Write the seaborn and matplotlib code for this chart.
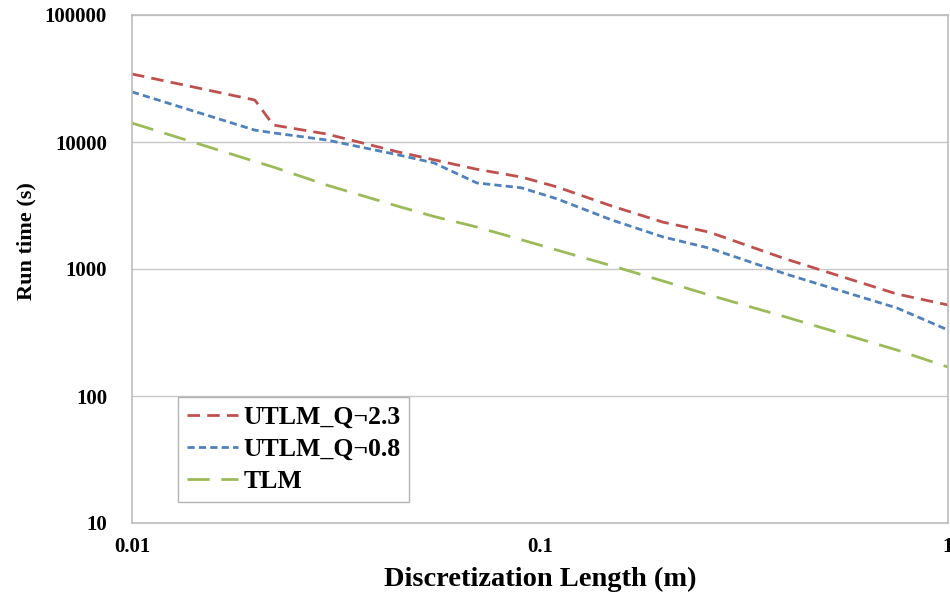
import pandas as pd
import seaborn as sns
import matplotlib.pyplot as plt
from matplotlib.ticker import FixedLocator, FixedFormatter, NullLocator

# ---------------------
# 1. DATA
# ---------------------
disc_length = [0.01, 0.02, 0.0222, 0.03, 0.045, 0.055, 0.07, 0.09, 0.11,
               0.15, 0.2, 0.26, 0.4, 0.75, 1.0]

utlm_q23 = [34300, 21400, 13600, 11560, 8340, 7240, 6100, 5300, 4430,
            3130, 2340, 1950, 1200, 635, 521]
utlm_q08 = [24800, 12400, 11800, 10370, 7910, 6840, 4760, 4360, 3570,
            2430, 1790, 1460, 914, 493, 331]
tlm = [14100, 7030, 6350, 4580, 3110, 2590, 2140, 1700, 1410,
       1060, 805, 624, 419, 230, 169]

series_names = ["UTLM_Q¬2.3", "UTLM_Q¬0.8", "TLM"]
series_colors = ["#C0504D", "#4F81BD", "#9BBB59"]

x_ticks = [0.01, 0.1, 1]
x_tick_labels = ["0.01", "0.1", "1"]
y_ticks = [10, 100, 1000, 10000, 100000]
y_tick_labels = ["10", "100", "1000", "10000", "100000"]

df = pd.concat([
    pd.DataFrame({"length": disc_length, "time": vals, "series": name})
    for name, vals in zip(series_names, [utlm_q23, utlm_q08, tlm])
])

# ---------------------
# 2. PLOT
# ---------------------
sns.set_theme(style="white")
plt.rcParams["font.family"] = ["Liberation Serif", "DejaVu Serif"]
plt.rcParams["font.weight"] = "bold"
plt.rcParams["text.color"] = "black"
plt.rcParams["xtick.color"] = "black"
plt.rcParams["ytick.color"] = "black"
plt.rcParams["axes.labelcolor"] = "black"

fig = plt.figure(figsize=(9.5, 5.92), dpi=100)
ax = fig.add_axes([132 / 950, 1 - 523 / 592, 816 / 950, 508 / 592])

dash_styles = {
    "UTLM_Q¬2.3": (4.5, 2.6),
    "UTLM_Q¬0.8": (2.6, 1.5),
    "TLM": (8.0, 4.2),
}
sns.lineplot(data=df, x="length", y="time", hue="series", style="series",
             palette=dict(zip(series_names, series_colors)),
             dashes=dash_styles, linewidth=2.0, sort=False, ax=ax)

ax.set_xscale("log")
ax.set_yscale("log")
ax.set_xlim(0.01, 1)
ax.set_ylim(10, 100000)

ax.xaxis.set_major_locator(FixedLocator(x_ticks))
ax.xaxis.set_major_formatter(FixedFormatter(x_tick_labels))
ax.xaxis.set_minor_locator(NullLocator())
ax.yaxis.set_major_locator(FixedLocator(y_ticks))
ax.yaxis.set_major_formatter(FixedFormatter(y_tick_labels))
ax.yaxis.set_minor_locator(NullLocator())

ax.grid(axis="y", color="#c8c8c8", linewidth=1.0)
ax.grid(axis="x", visible=False)
for side in ["left", "bottom", "right", "top"]:
    ax.spines[side].set_color("#bcbcbc")
    ax.spines[side].set_linewidth(1.2)
ax.tick_params(axis="both", which="major", length=4, color="#bcbcbc",
               labelcolor="black", labelsize=15)
ax.tick_params(axis="y", pad=14)
ax.tick_params(axis="x", pad=6)
for lbl in ax.get_xticklabels() + ax.get_yticklabels():
    lbl.set_fontweight("bold")

ax.set_xlabel("Discretization Length (m)", fontsize=20.5, fontweight="bold",
              labelpad=7)
ax.set_ylabel("Run time (s)", fontsize=16, fontweight="bold", labelpad=22)
ax.yaxis.set_label_coords(-0.117, 0.555)

leg = ax.legend(loc="upper left", bbox_to_anchor=(0.056, 0.248),
                fontsize=18.5, frameon=True, fancybox=False,
                handlelength=2.0, handletextpad=0.2, labelspacing=0.35,
                borderpad=0.35, borderaxespad=0)
leg.get_frame().set_edgecolor("#a0a0a0")
leg.get_frame().set_linewidth(1.0)
for t in leg.get_texts():
    t.set_fontweight("bold")
    t.set_color("black")

plt.savefig("out.png", dpi=100)
